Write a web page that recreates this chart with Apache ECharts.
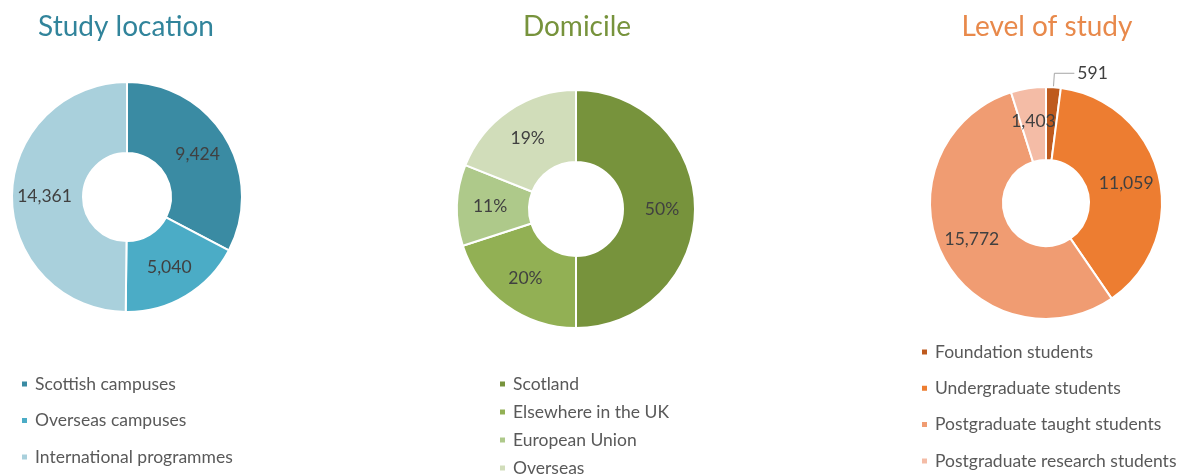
<!DOCTYPE html>
<html>
<head>
<meta charset="utf-8">
<script src="https://cdn.jsdelivr.net/npm/echarts@6/dist/echarts.min.js"></script>
<style>
  html, body { margin: 0; padding: 0; background: #fff; }
  #main { width: 1186px; height: 475px; }
</style>
</head>
<body>
<div id="main"></div>
<script>
var locationNames = ['Scottish campuses', 'Overseas campuses', 'International programmes'];
var locationValues = [9424, 5040, 14361];

var domicileNames = ['Scotland', 'Elsewhere in the UK', 'European Union', 'Overseas'];
var domicileValues = [50, 20, 11, 19];

var levelNames = ['Foundation students', 'Undergraduate students', 'Postgraduate taught students', 'Postgraduate research students'];
var levelValues = [591, 11059, 15772, 1403];

var FONT = 'Lato, "Open Sans", sans-serif';

function toData(names, values, colors) {
    var out = [];
    for (var i = 0; i < names.length; i++) {
        out.push({ name: names[i], value: values[i], itemStyle: { color: colors[i] } });
    }
    return out;
}

var locData = toData(locationNames, locationValues, ['#3A8BA3', '#4BACC6', '#A9D0DC']);
var domData = toData(domicileNames, domicileValues, ['#77933C', '#92B054', '#AEC98A', '#D1DDBA']);
var lvlData = toData(levelNames, levelValues, ['#BE5A1E', '#ED7D31', '#F09C72', '#F4BCA6']);

// the tiny foundation slice gets its label outside with a leader line
lvlData[0].label = { position: 'outside', distanceToLabelLine: 3 };
lvlData[0].labelLine = { show: true, length: 14, length2: 20, lineStyle: { color: '#a6a6a6', width: 1 } };

function numFmt(p) {
    return p.value.toLocaleString('en-US');
}

function pieSeries(name, center, radius, data, fmt) {
    return {
        name: name,
        type: 'pie',
        center: center,
        radius: radius,
        startAngle: 90,
        clockwise: true,
        avoidLabelOverlap: false,
        itemStyle: { borderColor: '#fff', borderWidth: 2 },
        label: {
            show: true,
            position: 'inside',
            formatter: fmt,
            color: '#404040',
            fontSize: 17.5,
            fontFamily: FONT
        },
        labelLine: { show: false },
        emphasis: { disabled: true },
        data: data
    };
}

function legend(names, left, top, gap) {
    return {
        data: names,
        orient: 'vertical',
        left: left,
        top: top,
        height: 200,
        padding: 0,
        icon: 'rect',
        itemWidth: 7,
        itemHeight: 7,
        itemGap: gap,
        selectedMode: false,
        textStyle: { color: '#595959', fontSize: 17.5, fontFamily: FONT, lineHeight: 22, padding: [0, 0, 0, 2] }
    };
}

var chart = echarts.init(document.getElementById('main'));

chart.setOption({
    backgroundColor: '#fff',
    animation: false,
    title: [
        { text: 'Study location', left: 121, top: 8, textAlign: 'center',
          textStyle: { color: '#31849B', fontSize: 28, fontWeight: 'normal', fontFamily: FONT } },
        { text: 'Domicile', left: 572, top: 8, textAlign: 'center',
          textStyle: { color: '#77933C', fontSize: 28, fontWeight: 'normal', fontFamily: FONT } },
        { text: 'Level of study', left: 1042, top: 8, textAlign: 'center',
          textStyle: { color: '#E8894B', fontSize: 28, fontWeight: 'normal', fontFamily: FONT } }
    ],
    legend: [
        legend(locationNames, 20, 373, 14.5),
        legend(domicileNames, 498, 373, 6),
        legend(levelNames, 920, 341, 14.3)
    ],
    series: [
        pieSeries('Study location', [127, 197], [44, 115], locData, numFmt),
        pieSeries('Domicile', [576, 209], [47, 119], domData, '{c}%'),
        pieSeries('Level of study', [1046, 203], [43, 116], lvlData, numFmt)
    ]
});
</script>
</body>
</html>
